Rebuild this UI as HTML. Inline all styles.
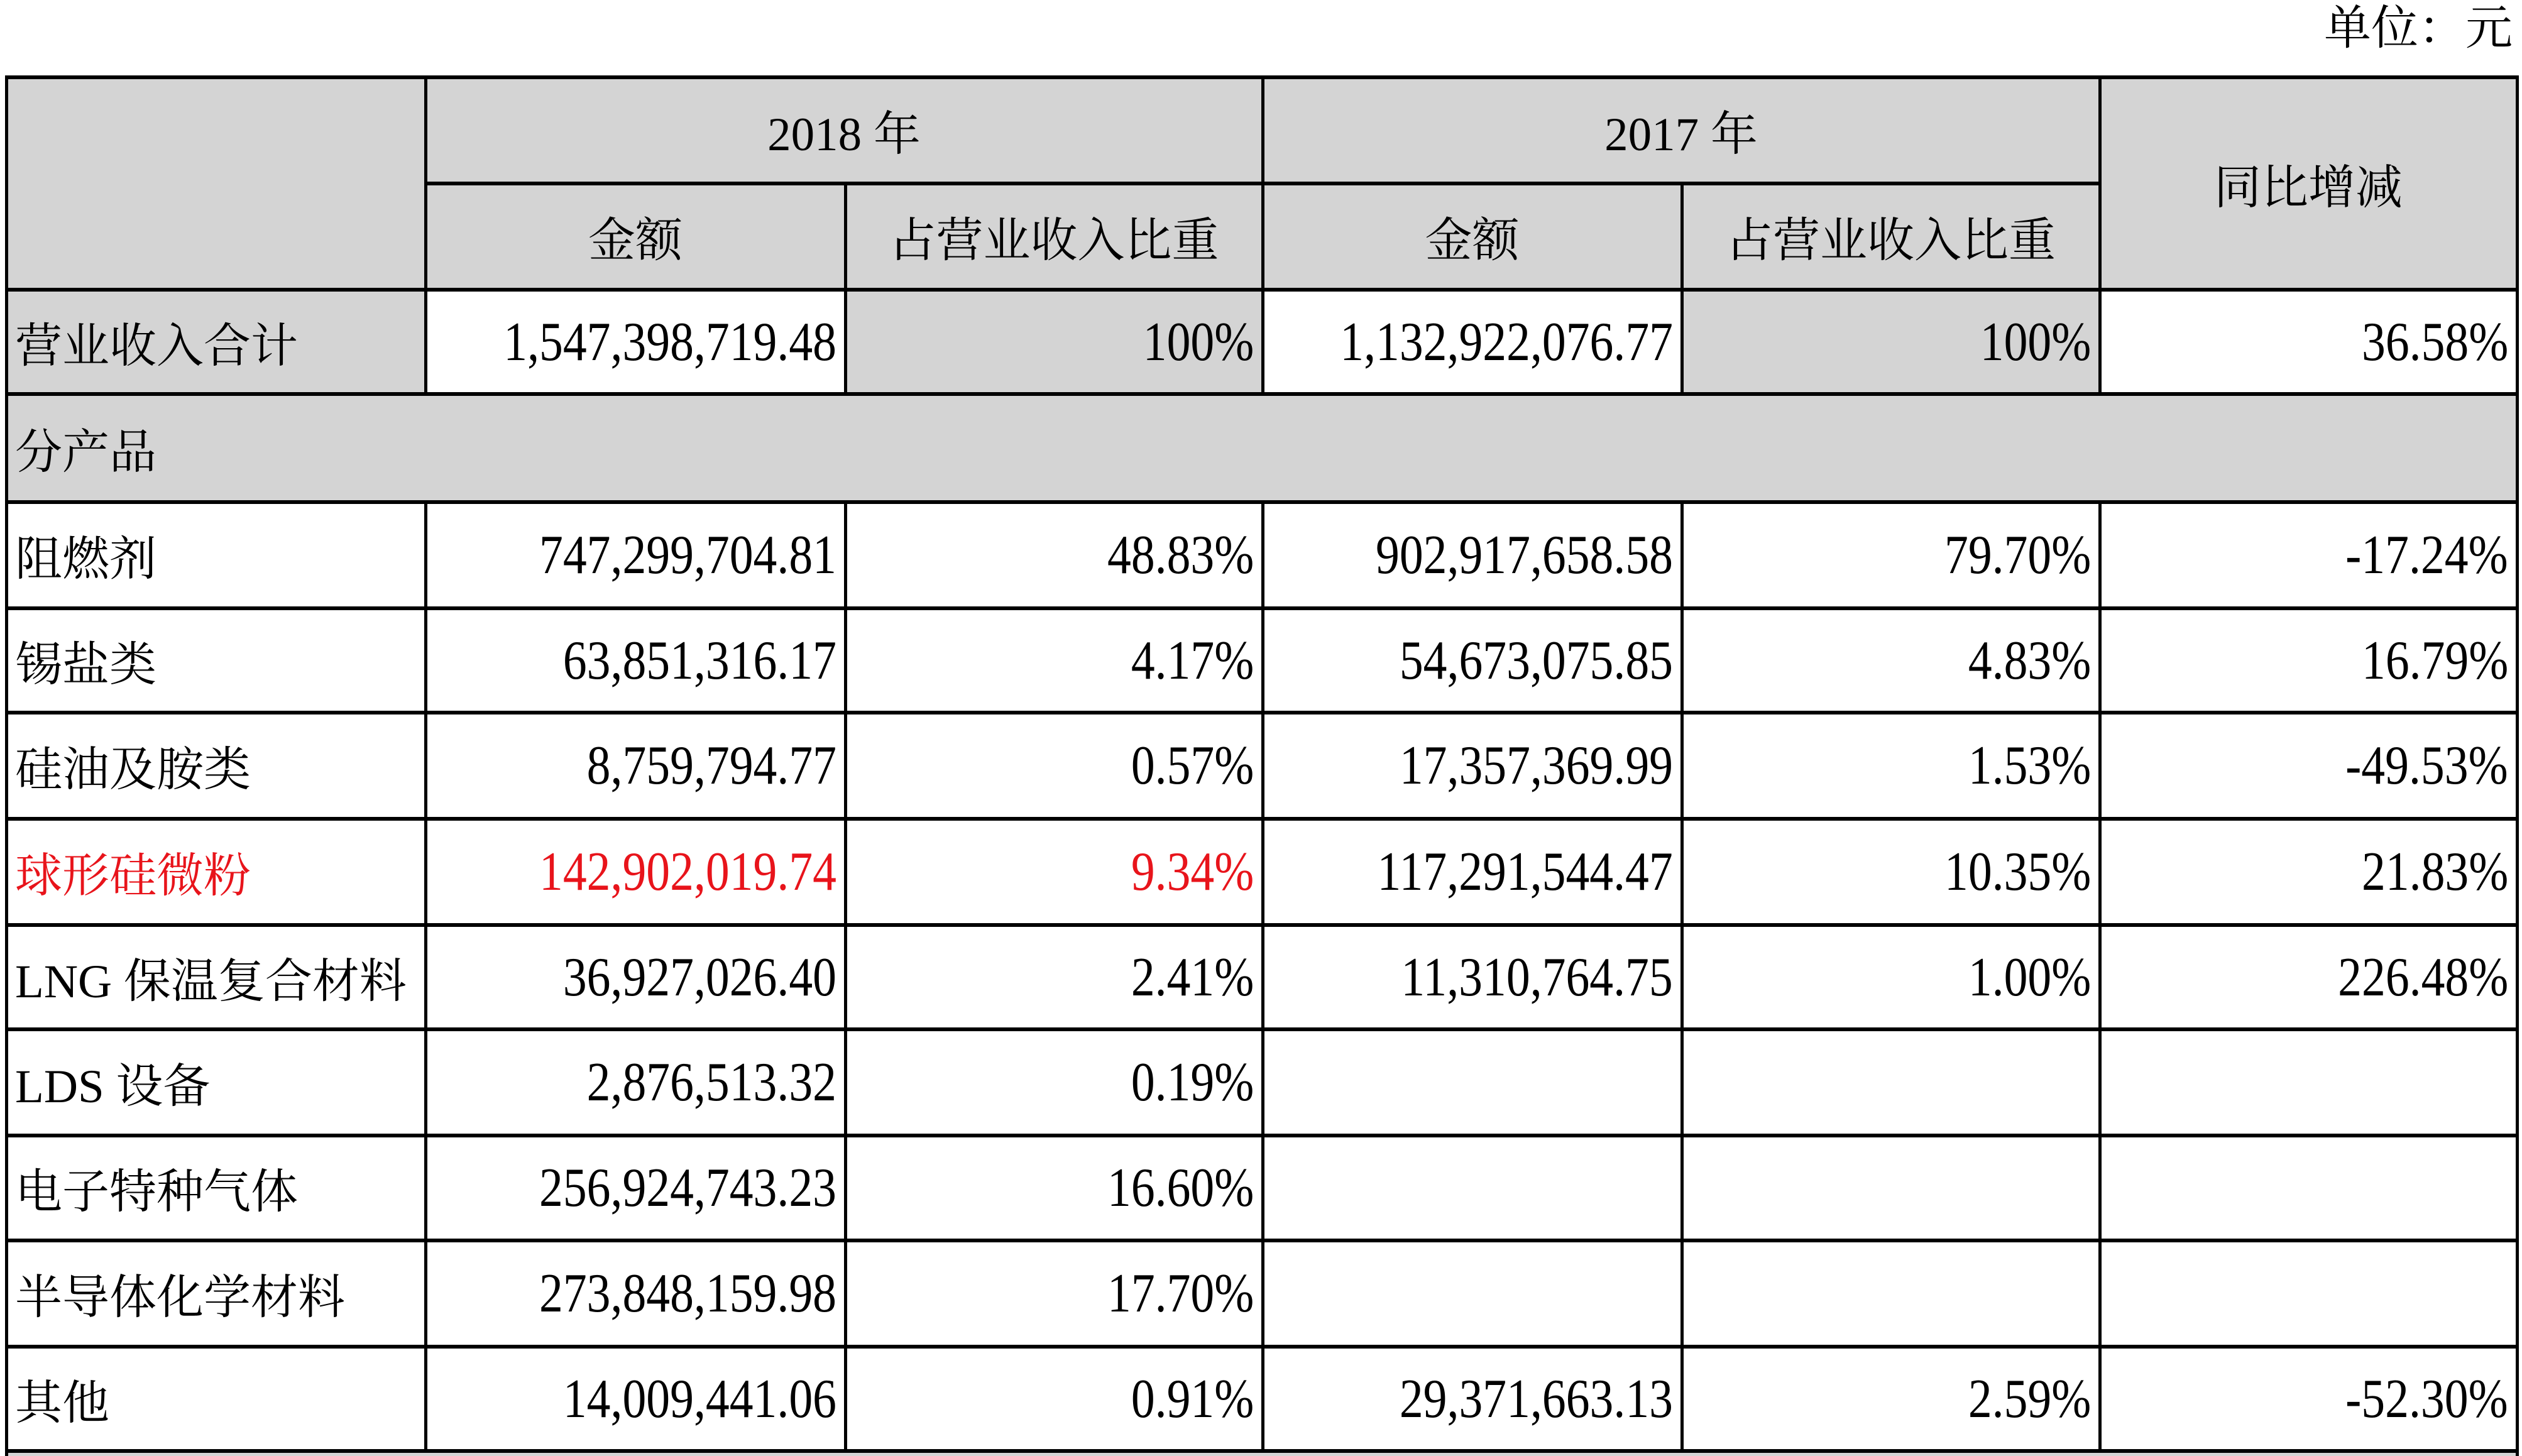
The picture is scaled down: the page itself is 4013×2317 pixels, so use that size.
<!DOCTYPE html>
<html><head><meta charset="utf-8">
<style>
html,body{margin:0;padding:0;background:#fff;}
#root{position:relative;width:4013px;height:2317px;overflow:hidden;background:#fff;}
.cell{position:absolute;box-sizing:border-box;display:flex;align-items:center;overflow:visible;white-space:nowrap;}
.num{font-family:"Liberation Serif",serif;font-size:88px;display:inline-block;transform:scaleX(0.86);transform-origin:right center;}
.cjk{font-family:"Liberation Serif","Noto Serif CJK SC",serif;font-size:75px;}
.hl{position:absolute;background:#000;}
</style></head><body>
<div id="root">
<div class="cell cjk" style="right:15px;top:0;height:76px;">单位：元</div>
</div>
<script>
const cols=[10,677,1345,2009,2676,3341,4005];
const rows=[123,292,461,627,799,968,1134,1303,1472,1638,1807,1974,2143,2309];
const products=["阻燃剂","锡盐类","硅油及胺类","球形硅微粉","LNG 保温复合材料","LDS 设备","电子特种气体","半导体化学材料","其他"];
const amt2018=["747,299,704.81","63,851,316.17","8,759,794.77","142,902,019.74","36,927,026.40","2,876,513.32","256,924,743.23","273,848,159.98","14,009,441.06"];
const pct2018=["48.83%","4.17%","0.57%","9.34%","2.41%","0.19%","16.60%","17.70%","0.91%"];
const amt2017=["902,917,658.58","54,673,075.85","17,357,369.99","117,291,544.47","11,310,764.75","","","","29,371,663.13"];
const pct2017=["79.70%","4.83%","1.53%","10.35%","1.00%","","","","2.59%"];
const yoy=["-17.24%","16.79%","-49.53%","21.83%","226.48%","","","","-52.30%"];
const totals=["1,547,398,719.48","100%","1,132,922,076.77","100%","36.58%"];
const root=document.getElementById('root');
const G='#d4d4d4';
function cell(x1,x2,y1,y2,bg,text,align,cls,color,name){
  const d=document.createElement('div');
  d.className='cell';
  d.style.left=x1+'px';d.style.top=y1+'px';d.style.width=(x2-x1)+'px';d.style.height=(y2-y1)+'px';
  d.style.background=bg;
  d.style.justifyContent=align==='r'?'flex-end':align==='c'?'center':'flex-start';
  d.style.padding=align==='r'?'0 14px 0 0':align==='l'?'0 0 0 14px':'0';
  
  
  if(text){const s=document.createElement('span');s.className=cls;s.textContent=text;if(color)s.style.color=color;
    if(cls==='num'&&align==='c')s.style.transformOrigin='center center';
    d.appendChild(s);}
  root.appendChild(d);return d;
}
cell(cols[0],cols[1],rows[0],rows[2],G,'','c','cjk',null,'header-blank');
cell(cols[1],cols[3],rows[0],rows[1],G,'2018 年','c','cjk',null,'header-2018');
cell(cols[3],cols[5],rows[0],rows[1],G,'2017 年','c','cjk',null,'header-2017');
cell(cols[5],cols[6],rows[0],rows[2],G,'同比增减','c','cjk',null,'header-yoy');
cell(cols[1],cols[2],rows[1],rows[2],G,'金额','c','cjk',null,'header-amount-2018');
cell(cols[2],cols[3],rows[1],rows[2],G,'占营业收入比重','c','cjk',null,'header-share-2018');
cell(cols[3],cols[4],rows[1],rows[2],G,'金额','c','cjk',null,'header-amount-2017');
cell(cols[4],cols[5],rows[1],rows[2],G,'占营业收入比重','c','cjk',null,'header-share-2017');
cell(cols[0],cols[1],rows[2],rows[3],G,'营业收入合计','l','cjk',null,'total-label');
const tbg=['#fff',G,'#fff',G,'#fff'];
for(let i=0;i<5;i++){cell(cols[i+1],cols[i+2],rows[2],rows[3],tbg[i],totals[i],'r','num',null,'total-value');}
cell(cols[0],cols[6],rows[3],rows[4],G,'分产品','l','cjk',null,'by-product-section');
for(let r=0;r<products.length;r++){
  const y1=rows[4+r],y2=rows[5+r];
  const red=products[r]==='球形硅微粉'?'#e8141b':null;
  cell(cols[0],cols[1],y1,y2,'#fff',products[r],'l','cjk',red,'product-label');
  cell(cols[1],cols[2],y1,y2,'#fff',amt2018[r],'r','num',red,'amount-2018');
  cell(cols[2],cols[3],y1,y2,'#fff',pct2018[r],'r','num',red,'share-2018');
  cell(cols[3],cols[4],y1,y2,'#fff',amt2017[r],'r','num',null,'amount-2017');
  cell(cols[4],cols[5],y1,y2,'#fff',pct2017[r],'r','num',null,'share-2017');
  cell(cols[5],cols[6],y1,y2,'#fff',yoy[r],'r','num',null,'yoy-change');
}
cell(cols[0],cols[6],rows[13],2317,G,'','l','cjk',null,'next-row-strip');
function line(x,y,w,h){const d=document.createElement('div');d.className='hl';
  d.style.left=x+'px';d.style.top=y+'px';d.style.width=w+'px';d.style.height=h+'px';
  
  
  root.appendChild(d);}
const W=cols[6]-cols[0];
line(cols[0]-2,rows[0]-3,W+5,6);
line(cols[1],rows[1]-3,cols[5]-cols[1],6);
for(let i=2;i<rows.length;i++){line(cols[0]-2,rows[i]-3,W+5,6);}
line(cols[0]-2,rows[0],5,2317-rows[0]);
line(cols[6]-2,rows[0],5,2317-rows[0]);
line(cols[1]-2,rows[0],5,rows[3]-rows[0]);
line(cols[3]-2,rows[0],5,rows[3]-rows[0]);
line(cols[5]-2,rows[0],5,rows[3]-rows[0]);
line(cols[2]-2,rows[1],5,rows[3]-rows[1]);
line(cols[4]-2,rows[1],5,rows[3]-rows[1]);
for(let c=1;c<6;c++){line(cols[c]-2,rows[4],5,rows[13]-rows[4]);}
</script>
</body></html>
